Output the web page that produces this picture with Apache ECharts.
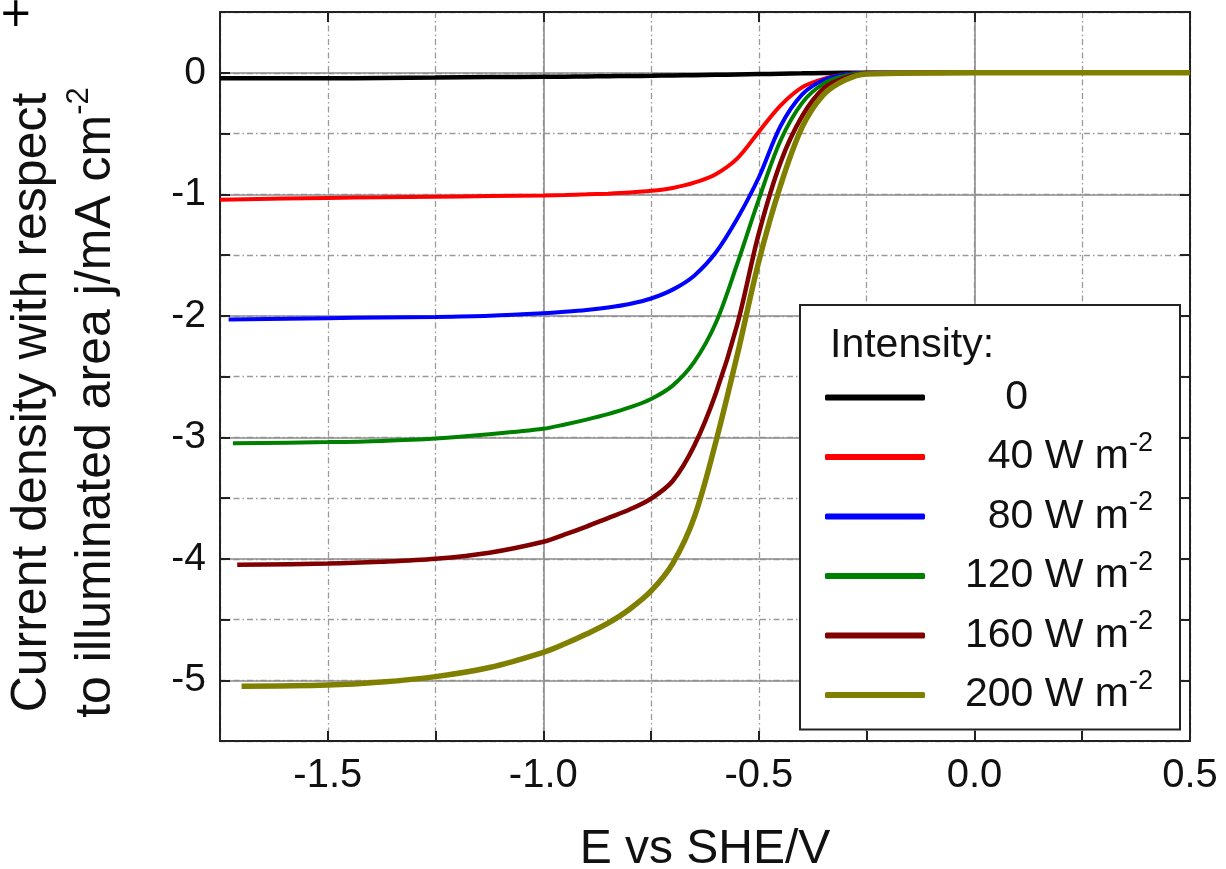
<!DOCTYPE html>
<html>
<head>
<meta charset="utf-8">
<script src="https://cdn.jsdelivr.net/npm/echarts@6/dist/echarts.min.js"></script>
<style>
  html, body { margin: 0; padding: 0; background: #fff; }
  #main { width: 1226px; height: 869px; }
</style>
</head>
<body>
<div id="main"></div>
<script>
// potential grid (V vs SHE), first point of every curve is its own scan start
var potential = [-1.5, -1.375, -1.25, -1.125, -1.0, -0.95, -0.9, -0.85, -0.8, -0.75, -0.7, -0.65, -0.6, -0.55, -0.5, -0.45, -0.4, -0.35, -0.3, -0.25, 0.0, 0.5];
var scanStart = [-1.75, -1.75, -1.73, -1.72, -1.71, -1.70];

var intensities = ['0', '40', '80', '120', '160', '200'];
var colors = ['#000000', '#ff0000', '#0000ff', '#008000', '#800000', '#808000'];
var widths = [4.5, 4, 4, 4, 4.5, 5.5];

// current density j / mA cm-2
var j0   = [-0.045, -0.045, -0.043, -0.04, -0.036, -0.033, -0.032, -0.03, -0.028, -0.027, -0.025, -0.022, -0.02, -0.017, -0.014, -0.011, -0.008, -0.005, -0.002, 0, 0, 0, 0];
var j40  = [-1.045, -1.03, -1.025, -1.02, -1.015, -1.01, -1.006, -1.001, -0.995, -0.986, -0.972, -0.948, -0.905, -0.835, -0.705, -0.485, -0.27, -0.12, -0.05, -0.015, 0, 0, 0];
var j80  = [-2.03, -2.02, -2.015, -2.01, -2.0, -1.98, -1.968, -1.953, -1.932, -1.903, -1.858, -1.785, -1.67, -1.48, -1.20, -0.86, -0.44, -0.18, -0.06, -0.015, 0, 0, 0];
var j120 = [-3.05, -3.04, -3.03, -3.01, -2.975, -2.93, -2.895, -2.855, -2.81, -2.755, -2.685, -2.575, -2.38, -2.06, -1.57, -1.04, -0.56, -0.25, -0.09, -0.025, -0.005, 0, 0];
var j160 = [-4.05, -4.04, -4.025, -4.0, -3.95, -3.86, -3.80, -3.735, -3.665, -3.595, -3.505, -3.36, -3.07, -2.64, -2.07, -1.32, -0.74, -0.36, -0.13, -0.04, -0.008, 0, 0];
var j200 = [-5.05, -5.04, -5.015, -4.97, -4.895, -4.77, -4.70, -4.62, -4.53, -4.415, -4.265, -4.04, -3.66, -3.04, -2.32, -1.55, -0.93, -0.45, -0.18, -0.06, -0.01, 0, 0];
var currents = [j0, j40, j80, j120, j160, j200];

var xMajor = [-1.5, -1.0, -0.5, 0.0, 0.5];

var myChart = echarts.init(document.getElementById('main'));

var font = 'Liberation Sans, Arial, sans-serif';

function seriesName(i) {
	return i === 0 ? '0' : intensities[i] + ' W m-2';
}

var series = currents.map(function(j, i) {
	var data = j.map(function(v, k) {
		return [k === 0 ? scanStart[i] : potential[k - 1], v];
	});
	return {
		name: seriesName(i),
		type: 'line',
		data: data,
		showSymbol: false,
		smooth: 0.33,
		lineStyle: { color: colors[i], width: widths[i] },
		itemStyle: { color: colors[i] },
		z: 2 + i,
		animation: false
	};
});

var dashType = [6, 3, 1.5, 3];

var option = {
	backgroundColor: '#fff',
	animation: false,
	grid: { left: 220, right: 36, top: 12, bottom: 128, containLabel: false, outerBoundsMode: 'none' },
	xAxis: [{
		type: 'value',
		position: 'bottom',
		min: -1.75,
		max: 0.5,
		interval: 0.25,
		axisLine: { onZero: false, lineStyle: { color: '#222', width: 2 } },
		axisTick: { inside: true, length: 10, lineStyle: { color: '#222', width: 2 } },
		axisLabel: {
			margin: 15,
			color: '#111',
			fontFamily: font,
			fontSize: 40,
			formatter: function(v) {
				return Math.abs(v * 2 - Math.round(v * 2)) < 1e-6 ? v.toFixed(1) : '';
			}
		},
		splitLine: { show: true, lineStyle: { color: '#9a9a9a', width: 1.3, type: dashType } },
		name: 'E vs SHE/V',
		nameLocation: 'middle',
		nameGap: 85,
		nameTextStyle: { color: '#111', fontFamily: font, fontSize: 48 }
	}, {
		type: 'value',
		position: 'top',
		min: -1.75,
		max: 0.5,
		interval: 0.25,
		axisLine: { show: true, onZero: false, lineStyle: { color: '#222', width: 2 } },
		axisTick: { show: true, inside: true, length: 10, customValues: xMajor, lineStyle: { color: '#222', width: 2 } },
		axisLabel: { show: false },
		splitLine: { show: true, lineStyle: { color: ['transparent', '#8c8c8c'], width: 1.6 } }
	}],
	yAxis: [{
		type: 'value',
		position: 'left',
		min: -5.5,
		max: 0.5,
		interval: 0.5,
		axisLine: { show: true, onZero: false, lineStyle: { color: '#222', width: 2 } },
		axisTick: { show: true, inside: true, length: 10, lineStyle: { color: '#222', width: 2 } },
		axisLabel: {
			margin: 14,
			color: '#111',
			fontFamily: font,
			fontSize: 39,
			formatter: function(v) {
				return Math.abs(v - Math.round(v)) < 1e-6 ? String(Math.round(v)) : '';
			}
		},
		splitLine: { show: true, lineStyle: { color: '#9a9a9a', width: 1.3, type: dashType } },
		name: '{a|Current density with respect}\n{a|to illuminated area j/mA cm}{s|-2}',
		nameLocation: 'middle',
		nameRotate: 90,
		nameGap: 92,
		nameTextStyle: {
			color: '#111',
			fontFamily: font,
			padding: [0, 52, 0, 0],
			rich: {
				a: { fontSize: 50, lineHeight: 64, fontFamily: font, color: '#111', verticalAlign: 'middle' },
				s: { fontSize: 31, lineHeight: 31, fontFamily: font, color: '#111', verticalAlign: 'top' }
			}
		}
	}, {
		type: 'value',
		position: 'right',
		min: -5.5,
		max: 0.5,
		interval: 0.5,
		axisLine: { show: true, onZero: false, lineStyle: { color: '#222', width: 2 } },
		axisTick: { show: true, inside: true, length: 10, lineStyle: { color: '#222', width: 2 } },
		axisLabel: { show: false },
		splitLine: { show: true, lineStyle: { color: ['transparent', '#8c8c8c'], width: 1.6 } }
	}],
	legend: {
		orient: 'vertical',
		left: 800,
		top: 305,
		padding: [72, 27, 14, 25],
		itemGap: 12,
		itemWidth: 100,
		itemHeight: 6,
		icon: 'roundRect',
		backgroundColor: '#fff',
		borderColor: '#222',
		borderWidth: 2,
		borderRadius: 0,
		data: series.map(function(s) { return s.name; }),
		formatter: function(name) {
			if (name === '0') return '{z|0}';
			return '{a|' + name.replace(' W m-2', '') + ' W m}{s|-2}';
		},
		textStyle: {
			width: 223,
			fontFamily: font,
			color: '#111',
			rich: {
				z: { fontSize: 41, lineHeight: 54, align: 'right', padding: [0, 125, 0, 0], fontFamily: font, color: '#111', verticalAlign: 'middle' },
				a: { fontSize: 41, lineHeight: 54, align: 'right', fontFamily: font, color: '#111', verticalAlign: 'middle' },
				s: { fontSize: 27, lineHeight: 27, align: 'right', fontFamily: font, color: '#111', verticalAlign: 'top' }
			}
		}
	},
	graphic: [{
		type: 'text',
		left: 830,
		top: 325,
		z: 100,
		style: { text: 'Intensity:', fontSize: 41, fontFamily: font, fill: '#111' }
	}, {
		type: 'text',
		left: -1,
		top: -4,
		z: 100,
		style: { text: '+', fontSize: 40, fontFamily: 'DejaVu Sans', fill: '#000' }
	}],
	series: series
};

myChart.setOption(option);
</script>
</body>
</html>
